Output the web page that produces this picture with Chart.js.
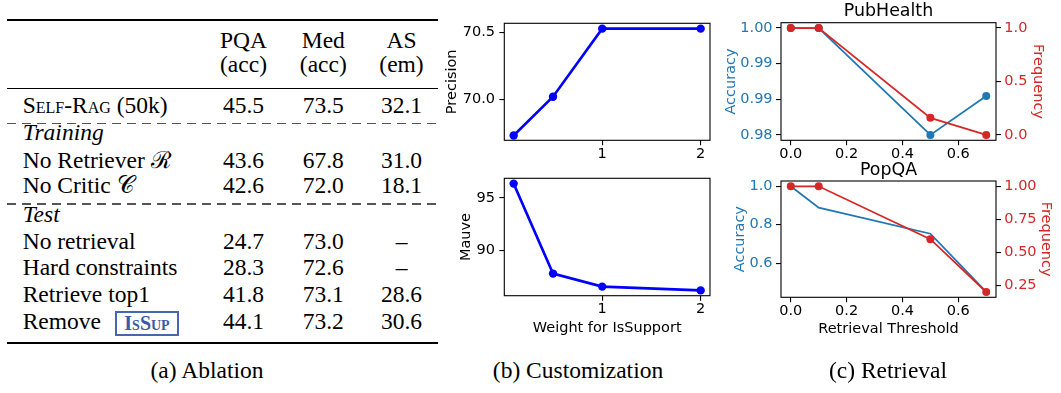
<!DOCTYPE html>
<html>
<head>
<meta charset="utf-8">
<script src="https://cdn.jsdelivr.net/npm/chart.js@4.4.0/dist/chart.umd.min.js"></script>
<style>
  body { margin: 0; background: #fff; }
  #fig { position: relative; width: 1061px; height: 393px; overflow: hidden; font-family: "Liberation Serif", "Times New Roman", serif; color: #000; }
  #fig canvas { position: absolute; }
  .t { position: absolute; font-size: 23.5px; line-height: 1; white-space: nowrap; }
  .rule { position: absolute; left: 7px; width: 431px; background: #000; }
  .dash { position: absolute; left: 7px; width: 431px; height: 1.3px;
          background: repeating-linear-gradient(90deg, #555 0 9px, transparent 9px 15px); }
  .issup { position: absolute; left: 115px; top: 311px; width: 60px; height: 21px;
           border: 2px solid #4766b0; color: #3d5aa6; font-weight: bold; font-variant: small-caps;
           font-size: 20px; line-height: 21px; text-align: center; }
</style>
</head>
<body>
<div id="fig">
  <canvas id="prec" width="280" height="170" style="left:440px;top:0"></canvas>
  <canvas id="mauve" width="280" height="175" style="left:440px;top:170px"></canvas>
  <canvas id="pub" width="341" height="170" style="left:720px;top:0"></canvas>
  <canvas id="pop" width="341" height="190" style="left:720px;top:155px"></canvas>
</div>
<script>
// (a) ablation table
const columns = ['PQA', 'Med', 'AS'];
const metrics = ['(acc)', '(acc)', '(em)'];
const rowLabels = ['Self-Rag (50k)', 'No Retriever', 'No Critic', 'No retrieval', 'Hard constraints', 'Retrieve top1', 'Remove'];
const pqaScores = ['45.5', '43.6', '42.6', '24.7', '28.3', '41.8', '44.1'];
const medScores = ['73.5', '67.8', '72.0', '73.0', '72.6', '73.1', '73.2'];
const asScores = ['32.1', '31.0', '18.1', '–', '–', '28.6', '30.6'];

// (b) customization
const weights = [0.1, 0.5, 1, 2];
const precision = [69.73, 70.02, 70.53, 70.53];
const mauve = [96.38, 87.76, 86.51, 86.15];
const weightTicks = [1, 2];
const precisionTicks = [70.0, 70.5];
const mauveTicks = [90, 95];

// (c) retrieval
const thresholds = [0, 0.1, 0.5, 0.7];
const pubAccuracy = [1.0, 1.0, 0.98, 0.9873];
const pubFrequency = [1.0, 1.0, 0.16, 0.0];
const popAccuracy = [1.0, 0.889, 0.753, 0.451];
const popFrequency = [1.0, 1.0, 0.6, 0.2];
const thresholdTicks = [0, 0.2, 0.4, 0.6];
const pubAccTicks = [0.98, 0.986667, 0.993333, 1.0];
const pubFreqTicks = [0, 0.5, 1.0];
const popAccTicks = [0.6, 0.8, 1.0];
const popFreqTicks = [0.25, 0.5, 0.75, 1.0];

const BLUE = '#1f77b4';
const RED = '#d62728';

// ---- table ----
const fig = document.getElementById('fig');

function text(html, x, baseline, center, extra) {
  const el = document.createElement('div');
  el.className = 't';
  el.innerHTML = html;
  el.style.left = x + 'px';
  el.style.top = (baseline - 19.7) + 'px';
  if (center) el.style.transform = 'translateX(-50%)';
  if (extra) el.style.cssText += extra;
  fig.appendChild(el);
}

function rule(y, h, cls) {
  const el = document.createElement('div');
  el.className = cls || 'rule';
  el.style.top = y + 'px';
  if (h) el.style.height = h + 'px';
  fig.appendChild(el);
}

const colX = [243.5, 323.3, 401.5];
columns.forEach((c, i) => {
  text(c, colX[i], 48.3, true);
  text(metrics[i], colX[i], 72.7, true);
});

const rowBase = [113.3, 168.3, 194, 250, 276, 302.3, 329.3];
rowLabels.forEach((label, i) => {
  let html = label;
  if (i === 0) html = '<span style="font-variant:small-caps">Self-Rag</span> (50k)';
  if (i === 1) html = label + ' <span>ℛ</span>';
  if (i === 2) html = label + ' <span>𝒞</span>';
  text(html, 22.7, rowBase[i], false);
  text(pqaScores[i], colX[0], rowBase[i], true);
  text(medScores[i], colX[1], rowBase[i], true);
  text(asScores[i], colX[2], rowBase[i], true);
});
text('<i>Training</i>', 22.7, 140.7, false);
text('<i>Test</i>', 22.7, 222.7, false);

const box = document.createElement('div');
box.className = 'issup';
box.textContent = 'IsSup';
fig.appendChild(box);

rule(19, 2);
rule(87.7, 1.3);
rule(122.7, 0, 'dash');
rule(203.4, 0, 'dash');
rule(342.3, 2);

text('(a) Ablation', 207, 378.3, true);
text('(b) Customization', 578, 378.3, true);
text('(c) Retrieval', 888, 378.3, true);

// ---- charts ----
Chart.defaults.font.family = "'DejaVu Sans'";
Chart.defaults.font.size = 14.5;
Chart.defaults.color = '#000';

const frame = {
  id: 'frame',
  afterDatasetsDraw(chart) {
    const { ctx, chartArea: a } = chart;
    ctx.save();
    ctx.strokeStyle = '#000';
    ctx.lineWidth = 1.1;
    ctx.strokeRect(a.left, a.top, a.right - a.left, a.bottom - a.top);
    ctx.restore();
  }
};

function axis(o) {
  return {
    type: 'linear',
    position: o.position,
    min: o.min,
    max: o.max,
    afterBuildTicks: s => { s.ticks = o.ticks.map(v => ({ value: v })); },
    afterFit: s => {
      if (o.width) s.width = o.width;
      if (o.height) s.height = o.height;
      s.paddingTop = s.paddingBottom = s.paddingLeft = s.paddingRight = 0;
    },
    ticks: {
      color: o.color || '#000',
      padding: o.pad,
      autoSkip: false,
      maxRotation: 0,
      callback: v => v.toFixed(o.digits)
    },
    grid: { drawOnChartArea: false, drawTicks: true, tickLength: 5, tickColor: '#000', lineWidth: 1.1 },
    border: { display: false },
    title: o.title
      ? { display: true, text: o.title, color: o.color || '#000', padding: o.titlePad, font: { size: 14.5 } }
      : { display: false }
  };
}

function pairs(xs, ys) {
  return xs.map((x, i) => ({ x: x, y: ys[i] }));
}

const baseOptions = {
  responsive: false,
  animation: false,
  plugins: { legend: { display: false }, tooltip: { enabled: false } }
};

// Precision
new Chart(document.getElementById('prec'), {
  type: 'line',
  data: {
    datasets: [{
      data: pairs(weights, precision),
      borderColor: '#0000ff', backgroundColor: '#0000ff',
      borderWidth: 2.6, pointRadius: 4.2, pointBorderWidth: 0, tension: 0
    }]
  },
  options: Object.assign({}, baseOptions, {
    layout: { padding: { top: 23.3, right: 10, left: 0, bottom: 0 } },
    scales: {
      x: axis({ position: 'bottom', min: 0.005, max: 2.095, ticks: weightTicks, digits: 0, height: 29.7, pad: 0 }),
      y: axis({ position: 'left', min: 69.694, max: 70.570, ticks: precisionTicks, digits: 1, width: 64.3, pad: 4.3,
                title: 'Precision', titlePad: { top: 3.6, bottom: 0 } })
    }
  }),
  plugins: [frame]
});

// Mauve
new Chart(document.getElementById('mauve'), {
  type: 'line',
  data: {
    datasets: [{
      data: pairs(weights, mauve),
      borderColor: '#0000ff', backgroundColor: '#0000ff',
      borderWidth: 2.6, pointRadius: 4.2, pointBorderWidth: 0, tension: 0
    }]
  },
  options: Object.assign({}, baseOptions, {
    layout: { padding: { top: 8.3, right: 10, left: 0, bottom: 0 } },
    scales: {
      x: axis({ position: 'bottom', min: 0.005, max: 2.095, ticks: weightTicks, digits: 0, height: 49.3, pad: 0.3,
                title: 'Weight for IsSupport', titlePad: { top: 0, bottom: 8.0 } }),
      y: axis({ position: 'left', min: 85.64, max: 96.89, ticks: mauveTicks, digits: 0, width: 64.3, pad: 4.3,
                title: 'Mauve', titlePad: { top: 18.0, bottom: 0 } })
    }
  }),
  plugins: [frame]
});

function retrievalChart(id, name, acc, freq, accMarkers, o) {
  return new Chart(document.getElementById(id), {
    type: 'line',
    data: {
      datasets: [
        {
          data: pairs(thresholds, freq), yAxisID: 'y1', order: 0,
          borderColor: RED, backgroundColor: RED,
          borderWidth: 1.8, pointRadius: 4, pointBorderWidth: 0, tension: 0
        },
        {
          data: pairs(thresholds, acc), yAxisID: 'y', order: 1,
          borderColor: BLUE, backgroundColor: BLUE,
          borderWidth: 1.8, pointRadius: accMarkers ? 4 : 0, pointBorderWidth: 0, tension: 0
        }
      ]
    },
    options: Object.assign({}, baseOptions, {
      layout: { padding: 0 },
      plugins: {
        legend: { display: false }, tooltip: { enabled: false },
        title: { display: true, text: name, fullSize: false, color: '#000',
                 font: { size: 17.4, weight: 'normal' }, padding: o.titlePad }
      },
      scales: {
        x: axis({ position: 'bottom', min: -0.035, max: 0.735, ticks: thresholdTicks, digits: 1,
                  height: o.xHeight, pad: o.xPad, title: o.xTitle, titlePad: { top: 0, bottom: 7.0 } }),
        y: axis({ position: 'left', min: o.accMin, max: o.accMax, ticks: o.accTicks, digits: o.accDigits,
                  width: 61, pad: 3.4, color: BLUE, title: 'Accuracy', titlePad: { top: o.accTitlePad, bottom: 0 } }),
        y1: axis({ position: 'right', min: o.freqMin, max: o.freqMax, ticks: o.freqTicks, digits: o.freqDigits,
                   width: 65, pad: 3.3, color: RED, title: 'Frequency', titlePad: { top: o.freqTitlePad, bottom: 0 } })
      }
    }),
    plugins: [frame]
  });
}

retrievalChart('pub', 'PubHealth', pubAccuracy, pubFrequency, true, {
  titlePad: { top: 1.06, bottom: 0.76 }, xHeight: 29.7, xPad: 0,
  accMin: 0.979, accMax: 1.001, accTicks: pubAccTicks, accDigits: 2, accTitlePad: 3.0,
  freqMin: -0.05, freqMax: 1.05, freqTicks: pubFreqTicks, freqDigits: 1, freqTitlePad: 15.0
});

retrievalChart('pop', 'PopQA', popAccuracy, popFrequency, false, {
  titlePad: { top: 4.56, bottom: 0.56 }, xHeight: 47.7, xPad: 0, xTitle: 'Retrieval Threshold',
  accMin: 0.4224, accMax: 1.0274, accTicks: popAccTicks, accDigits: 1, accTitlePad: 12.0,
  freqMin: 0.16, freqMax: 1.04, freqTicks: popFreqTicks, freqDigits: 2, freqTitlePad: 6.3
});
</script>
</body>
</html>
